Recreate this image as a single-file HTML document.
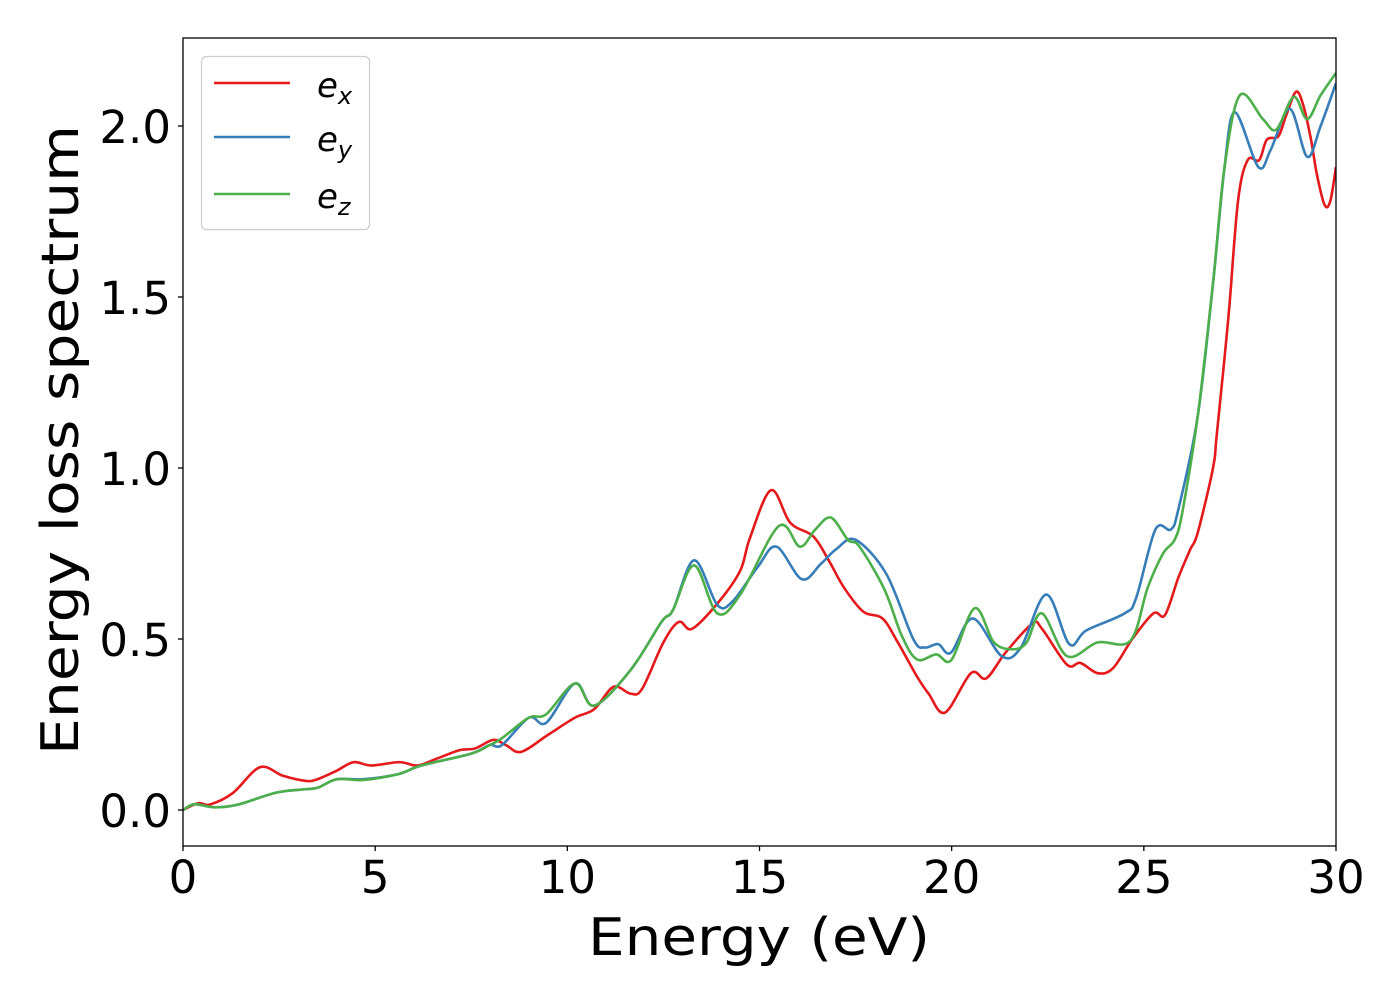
<!DOCTYPE html>
<html><head><meta charset="utf-8"><style>
html,body{margin:0;padding:0;background:#fff;}
svg{display:block;font-family:"DejaVu Sans","Liberation Sans",sans-serif;}
</style></head><body>
<svg id="chart" width="1400" height="1000" viewBox="0 0 1400 1000">
<rect x="0" y="0" width="1400" height="1000" fill="#fff"/>
<g id="plot"></g>
<g id="axes"></g>
<text x="759" y="955" font-size="52" text-anchor="middle" textLength="342" lengthAdjust="spacingAndGlyphs">Energy (eV)</text>
<text transform="translate(78,440) rotate(-90)" font-size="52" text-anchor="middle" textLength="630" lengthAdjust="spacingAndGlyphs">Energy loss spectrum</text>
<g>
<rect x="201.5" y="56.5" width="168" height="173" rx="5" fill="#fff" stroke="#ccc" stroke-width="1.2"/>
<g><line x1="214" y1="83" x2="290" y2="83" stroke="#e41a1c" stroke-width="2.6"/><text x="317" y="97" font-size="34" font-style="italic">e<tspan font-size="24" dy="7">x</tspan></text></g>
<g><line x1="214" y1="137" x2="290" y2="137" stroke="#377eb8" stroke-width="2.6"/><text x="317" y="151" font-size="34" font-style="italic">e<tspan font-size="24" dy="7">y</tspan></text></g>
<g><line x1="214" y1="194" x2="290" y2="194" stroke="#4daf4a" stroke-width="2.6"/><text x="317" y="208" font-size="34" font-style="italic">e<tspan font-size="24" dy="7">z</tspan></text></g>
</g>
</svg>
<script>
const xTicks = [0, 5, 10, 15, 20, 25, 30];
const yTicks = [0.0, 0.5, 1.0, 1.5, 2.0];
const yTickLabels = ["0.0", "0.5", "1.0", "1.5", "2.0"];
const exE = [0,0.4,0.7,1.3,2.0,2.6,3.2,3.5,4.0,4.44,4.9,5.63,6.1,6.6,7.2,7.6,8.07,8.4,8.8,9.5,10.2,10.7,11.2,11.65,11.95,12.5,12.9,13.25,13.95,14.5,14.75,15.3,15.8,16.4,16.8,17.2,17.7,18.2,18.6,19.1,19.4,19.83,20.5,20.9,21.4,22.1,22.35,23.0,23.35,23.8,24.2,24.7,25.25,25.55,25.9,26.2,26.4,26.8,26.9,27.2,27.45,27.7,28.0,28.2,28.5,28.7,28.96,29.15,29.35,29.5,29.7,29.85,30];
const exV = [0,0.02,0.016,0.05,0.125,0.1,0.085,0.09,0.115,0.14,0.13,0.14,0.13,0.15,0.175,0.18,0.205,0.19,0.17,0.22,0.27,0.295,0.36,0.34,0.355,0.49,0.55,0.53,0.61,0.7,0.795,0.935,0.84,0.8,0.73,0.65,0.58,0.56,0.49,0.39,0.34,0.285,0.4,0.385,0.46,0.545,0.53,0.425,0.43,0.4,0.415,0.5,0.575,0.57,0.68,0.76,0.81,1.0,1.1,1.44,1.78,1.9,1.9,1.96,1.97,2.03,2.1,2.06,1.96,1.86,1.77,1.78,1.88];
const eyE = [0,0.3,0.8,1.4,2.4,3.1,3.5,4.0,4.7,5.6,6.2,7.5,7.98,8.3,9.0,9.45,10.2,10.7,11.65,12.45,12.75,13.3,13.9,14.3,14.95,15.44,16.1,16.6,17.0,17.5,18.3,19.0,19.3,19.65,19.98,20.55,21.3,21.8,22.46,23.06,23.5,24.5,24.8,25.3,25.7,25.9,26.4,26.8,27.1,27.37,27.98,28.3,28.8,29.25,29.6,30];
const eyV = [0,0.017,0.008,0.015,0.05,0.06,0.065,0.09,0.09,0.105,0.13,0.165,0.19,0.19,0.27,0.255,0.37,0.305,0.41,0.55,0.585,0.73,0.6,0.61,0.71,0.77,0.675,0.72,0.763,0.79,0.69,0.5,0.475,0.485,0.46,0.56,0.45,0.475,0.63,0.485,0.525,0.575,0.62,0.82,0.82,0.88,1.15,1.54,1.88,2.04,1.88,1.93,2.05,1.91,2.0,2.125];
const ezE = [0,0.3,0.8,1.4,2.4,3.1,3.5,4.0,4.7,5.6,6.2,7.5,7.98,8.3,9.0,9.45,10.2,10.7,11.65,12.45,12.75,13.3,13.9,14.5,15.5,16.05,16.45,16.86,17.3,17.6,18.25,18.7,19.1,19.6,20.0,20.6,21.1,21.6,21.95,22.35,23.0,23.8,24.65,25.1,25.5,25.8,26.0,26.4,26.8,27.1,27.5,28.1,28.45,28.9,29.25,29.6,30];
const ezV = [0,0.017,0.008,0.015,0.05,0.06,0.065,0.09,0.088,0.105,0.13,0.165,0.19,0.21,0.27,0.28,0.37,0.305,0.41,0.55,0.585,0.715,0.575,0.63,0.83,0.77,0.82,0.855,0.79,0.77,0.645,0.51,0.44,0.455,0.44,0.59,0.49,0.47,0.49,0.575,0.45,0.49,0.495,0.65,0.75,0.79,0.87,1.15,1.54,1.88,2.09,2.02,1.99,2.085,2.02,2.09,2.155];

const X0=183, X1=1336, Y0=38, Y1=846;
function sx(v){ return X0 + (v-0)/(30-0)*(X1-X0); }
function sy(v){ return 810 - v*342; }
const NS='http://www.w3.org/2000/svg';
const plot=document.getElementById('plot');
const axes=document.getElementById('axes');

function smoothPath(xs, ys){
  const p = xs.map((e,i)=>[sx(e), sy(ys[i])]);
  let d='M'+p[0][0].toFixed(2)+','+p[0][1].toFixed(2);
  for(let i=0;i<p.length-1;i++){
    const a=p[Math.max(0,i-1)], b=p[i], c=p[i+1], n=p[Math.min(p.length-1,i+2)];
    const c1=[b[0]+(c[0]-a[0])/6, b[1]+(c[1]-a[1])/6];
    const c2=[c[0]-(n[0]-b[0])/6, c[1]-(n[1]-b[1])/6];
    d+=' C'+c1[0].toFixed(2)+','+c1[1].toFixed(2)+' '+c2[0].toFixed(2)+','+c2[1].toFixed(2)+' '+c[0].toFixed(2)+','+c[1].toFixed(2);
  }
  return d;
}
const series=[[exE,exV,'#e41a1c','series-ex'],[eyE,eyV,'#377eb8','series-ey'],[ezE,ezV,'#4daf4a','series-ez']];
const clip=document.createElementNS(NS,'clipPath'); clip.setAttribute('id','pc');
const cr=document.createElementNS(NS,'rect'); cr.setAttribute('x',X0); cr.setAttribute('y',Y0); cr.setAttribute('width',X1-X0); cr.setAttribute('height',Y1-Y0);
clip.appendChild(cr); plot.appendChild(clip);
series.forEach(s=>{
  const path=document.createElementNS(NS,'path');
  path.setAttribute('d',smoothPath(s[0],s[1]));
  path.setAttribute('fill','none'); path.setAttribute('stroke',s[2]); path.setAttribute('stroke-width','2.6');
  path.setAttribute('stroke-linejoin','round'); path.setAttribute('clip-path','url(#pc)');
  
  
  plot.appendChild(path);
});
const frame=document.createElementNS(NS,'rect');
frame.setAttribute('x',X0); frame.setAttribute('y',Y0); frame.setAttribute('width',X1-X0); frame.setAttribute('height',Y1-Y0);
frame.setAttribute('fill','none'); frame.setAttribute('stroke','#000'); frame.setAttribute('stroke-width','1.3');


axes.appendChild(frame);
xTicks.forEach(t=>{
  const l=document.createElementNS(NS,'line');
  l.setAttribute('x1',sx(t)); l.setAttribute('x2',sx(t)); l.setAttribute('y1',Y1); l.setAttribute('y2',Y1+5);
  l.setAttribute('stroke','#000'); l.setAttribute('stroke-width','1.3');
  
  
  axes.appendChild(l);
  const tx=document.createElementNS(NS,'text');
  tx.setAttribute('x',sx(t)); tx.setAttribute('y',893); tx.setAttribute('font-size','45'); tx.setAttribute('text-anchor','middle');
  tx.textContent=String(t);
  
  
  axes.appendChild(tx);
});
yTicks.forEach((t,i)=>{
  const l=document.createElementNS(NS,'line');
  l.setAttribute('x1',X0-5); l.setAttribute('x2',X0); l.setAttribute('y1',sy(t)); l.setAttribute('y2',sy(t));
  l.setAttribute('stroke','#000'); l.setAttribute('stroke-width','1.3');
  
  
  axes.appendChild(l);
  const tx=document.createElementNS(NS,'text');
  tx.setAttribute('x',171); tx.setAttribute('y',sy(t)+17); tx.setAttribute('font-size','45'); tx.setAttribute('text-anchor','end');
  tx.textContent=yTickLabels[i];
  
  
  axes.appendChild(tx);
});
</script>
</body></html>
